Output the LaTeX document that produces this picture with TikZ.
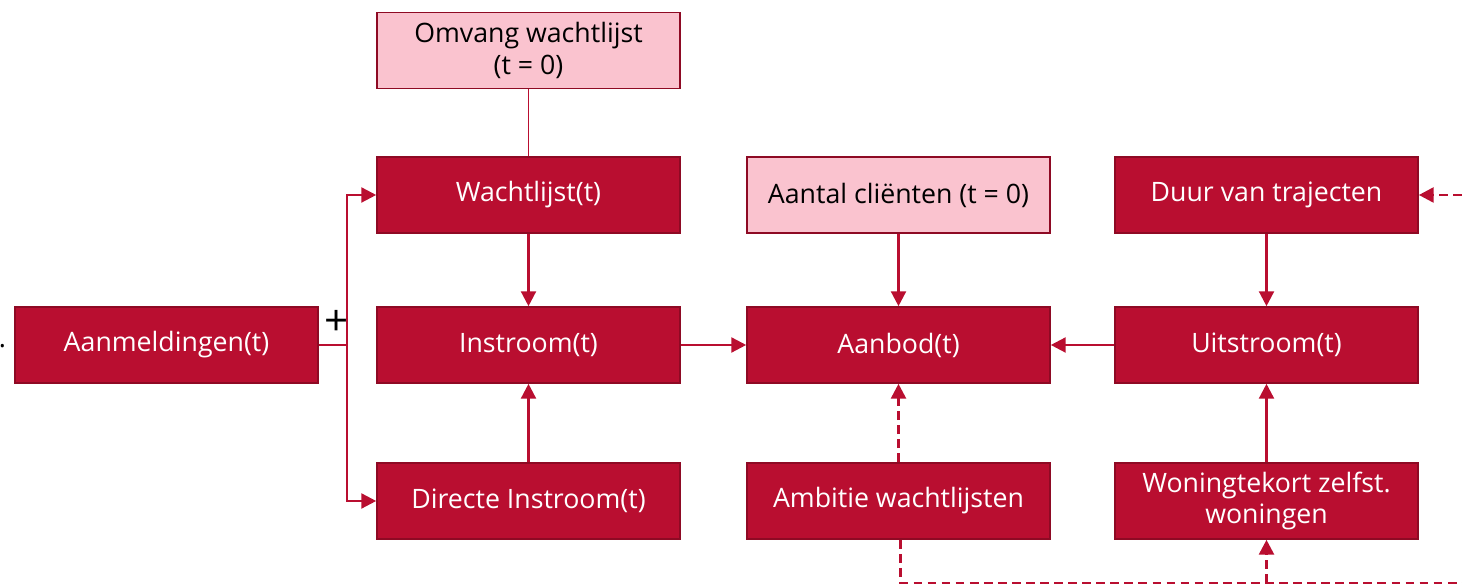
\documentclass[tikz,border=0pt]{standalone}
\usepackage{fontspec}
\setmainfont{Open Sans}
\usetikzlibrary{arrows.meta}
\definecolor{wred}{HTML}{B90E30}
\definecolor{wdark}{HTML}{8E0A24}
\definecolor{wpink}{HTML}{FAC3CF}
\begin{document}
\begin{tikzpicture}[
        scale=1,
        thick,
        font=\fontsize{15.2}{18}\selectfont
    ]
    \tikzset{
        mynode/.style = {rectangle, draw=wdark, line width=0.9pt, align=center, fill=wred, text=white,
                         minimum width=6.06cm, minimum height=1.52cm, inner sep=2pt},
        mynodep/.style = {mynode, fill=wpink, text=black},
        edgen/.style = {-{Triangle[length=8.5pt,width=8.5pt]}, wred, line width=1.4pt},
        edgel/.style = {-, wred, line width=1.4pt},
        edget/.style = {-, wred, line width=0.7pt},
        edged/.style = {edgen, line width=1.6pt, dash pattern=on 5pt off 3pt},
        edgedl/.style = {edgel, line width=1.6pt, dash pattern=on 5pt off 3pt},
    }
    \useasboundingbox (0,0) rectangle (29.24,11.76);
    \node[mynodep] at (10.57,10.75) (omv) {Omvang wachtlijst\\(t = 0)};
    \node[mynode] at (10.57,7.86) (wacht) {Wachtlijst(t)};
    \node[mynode] at (10.57,4.86) (instr) {Instroom(t)};
    \node[mynode] at (10.57,1.74) (direct) {Directe Instroom(t)};
    \node[mynode] at (3.33,4.86) (aanm) {Aanmeldingen(t)};
    \node[mynodep] at (17.97,7.86) (aantal) {Aantal cliënten (t = 0)};
    \node[mynode] at (17.97,4.86) (aanbod) {Aanbod(t)};
    \node[mynode] at (17.97,1.74) (ambitie) {Ambitie wachtlijsten};
    \node[mynode] at (25.33,7.86) (duur) {Duur van trajecten};
    \node[mynode] at (25.33,4.86) (uitstr) {Uitstroom(t)};
    \node[mynode] at (25.33,1.74) (woning) {Woningtekort zelfst.\\woningen};
    \node[inner sep=0pt] at (6.74,5.30) (plus) {\fontsize{24}{24}\selectfont +};
    \node[inner sep=0pt] at (0.05,4.84) (dot) {.};
    %
    \coordinate (split) at (6.94,4.86);
    \coordinate (rtop) at (29.24,7.86);
    \coordinate (rbot) at (29.24,0.1);
    \coordinate (dcorner) at (18.01,0.1);
    \coordinate (wcorner) at (25.33,0.1);
    %
    \draw[edgel] (aanm) -- (split);
    \draw[edgen] (split) |- (wacht);
    \draw[edgen] (split) |- (direct);
    \draw[edget] (omv) -- (wacht);
    \draw[edgen] (wacht) -- (instr);
    \draw[edgen] (direct) -- (instr);
    \draw[edgen] (instr) -- (aanbod);
    \draw[edgen] (aantal) -- (aanbod);
    \draw[edgen] (uitstr) -- (aanbod);
    \draw[edgen] (duur) -- (uitstr);
    \draw[edgen] (woning) -- (uitstr);
    %
    \draw[edged] (ambitie) -- (aanbod);
    \draw[edgedl] (ambitie.south -| dcorner) -- (dcorner) -- (rbot);
    \draw[edged] (wcorner) -- (woning);
    \draw[edged] (rtop) -- (duur);
\end{tikzpicture}
\end{document}
